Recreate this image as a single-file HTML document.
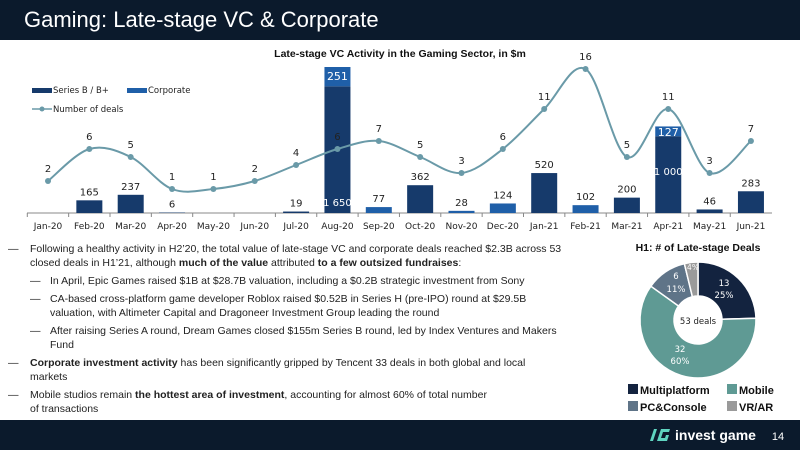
<!DOCTYPE html>
<html><head><meta charset="utf-8"><style>
body{margin:0;width:800px;height:450px;overflow:hidden;background:#fff;font-family:"Liberation Sans",sans-serif;position:relative}
.hdr{position:absolute;left:0;top:0;width:800px;height:40px;background:#0b1a2c;color:#fff;font-size:22px;line-height:40px;padding-left:24px;box-sizing:border-box}
.ftr{position:absolute;left:0;top:420px;width:800px;height:30px;background:#0b1a2c}
.txt{position:absolute;left:8px;top:242px;width:561px;font-size:10.5px;line-height:14px;color:#222}
.txt p{margin:0 0 4px 0;position:relative;padding-left:22px}
.txt p.s{padding-left:42px}
.txt p:before{content:"—";position:absolute;left:0}
.txt p.s:before{left:22px}
</style></head><body>
<div class="ftr"></div>
<div class="hdr">Gaming: Late-stage VC &amp; Corporate</div>
<svg width="800" height="450" style="position:absolute;left:0;top:0" id="s">
<text x="400" y="57" font-size="10.5" font-weight="bold" text-anchor="middle" fill="#111">Late-stage VC Activity in the Gaming Sector, in $m</text>
<rect x="32" y="88" width="20" height="5" fill="#163a6b"/><text x="53" y="93" font-size="8.5" fill="#222" font-family="DejaVu Sans">Series B / B+</text>
<rect x="127" y="88" width="20" height="5" fill="#1f5fa8"/><text x="148" y="93" font-size="8.5" fill="#222" font-family="DejaVu Sans">Corporate</text>
<line x1="32" y1="109" x2="52" y2="109" stroke="#6a9aa8" stroke-width="1.5"/><circle cx="42" cy="109" r="2.5" fill="#6a9aa8"/><text x="53" y="112" font-size="8.5" fill="#222" font-family="DejaVu Sans">Number of deals</text>
<line x1="27" y1="213" x2="772" y2="213" stroke="#888" stroke-width="1"/>
<g id="g"></g>
<g id="pie"></g>
<text x="698" y="251" font-size="10.5" font-weight="bold" text-anchor="middle" fill="#111">H1: # of Late-stage Deals</text>
<text x="698" y="324" font-size="8.5" text-anchor="middle" fill="#222" font-family="DejaVu Sans">53 deals</text>
<text x="724" y="286" font-size="8.5" text-anchor="middle" fill="#fff" font-family="DejaVu Sans">13</text>
<text x="724" y="298" font-size="8.5" text-anchor="middle" fill="#fff" font-family="DejaVu Sans">25%</text>
<text x="680" y="352" font-size="8.5" text-anchor="middle" fill="#fff" font-family="DejaVu Sans">32</text>
<text x="680" y="364" font-size="8.5" text-anchor="middle" fill="#fff" font-family="DejaVu Sans">60%</text>
<text x="676" y="279" font-size="8.5" text-anchor="middle" fill="#fff" font-family="DejaVu Sans">6</text>
<text x="676" y="292" font-size="8.5" text-anchor="middle" fill="#fff" font-family="DejaVu Sans">11%</text>
<text x="693" y="270" font-size="7.5" text-anchor="middle" fill="#fff" font-family="DejaVu Sans">4%</text>
<rect x="628" y="384" width="10" height="10" fill="#13233f"/><text x="640" y="394" font-size="11" font-weight="bold" fill="#111">Multiplatform</text>
<rect x="727" y="384" width="10" height="10" fill="#5f9a94"/><text x="739" y="394" font-size="11" font-weight="bold" fill="#111">Mobile</text>
<rect x="628" y="401" width="10" height="10" fill="#5f7488"/><text x="640" y="411" font-size="11" font-weight="bold" fill="#111">PC&amp;Console</text>
<rect x="727" y="401" width="10" height="10" fill="#9a9a9a"/><text x="739" y="411" font-size="11" font-weight="bold" fill="#111">VR/AR</text>
<g transform="translate(648,427)"><path d="M2 14 L6 2 L9 2 L5 14Z M9 14 L13 2 L22 2 L21 5 L15 5 L13 11 L17 11 L18 8 L21 8 L19 14Z" fill="#5fd4c0"/></g>
<text x="675" y="440" font-size="14" font-weight="bold" fill="#fff">invest game</text>
<text x="778" y="440" font-size="11" fill="#fff" text-anchor="middle">14</text>
</svg>
<div class="txt">
<p>Following a healthy activity in H2’20, the total value of late-stage VC and corporate deals reached $2.3B across 53 closed deals in H1’21, although <b>much of the value</b> attributed <b>to a few outsized fundraises</b>:</p>
<p class="s">In April, Epic Games raised $1B at $28.7B valuation, including a $0.2B strategic investment from Sony</p>
<p class="s">CA-based cross-platform game developer Roblox raised $0.52B in Series H (pre-IPO) round at $29.5B<br>valuation, with Altimeter Capital and Dragoneer Investment Group leading the round</p>
<p class="s">After raising Series A round, Dream Games closed $155m Series B round, led by Index Ventures and Makers<br>Fund</p>
<p><b>Corporate investment activity</b> has been significantly gripped by Tencent 33 deals in both global and local<br>markets</p>
<p>Mobile studios remain <b>the hottest area of investment</b>, accounting for almost 60% of total number<br>of transactions</p>
</div>
<script>
var ns="http://www.w3.org/2000/svg",g=document.getElementById("g");
function el(t,a,txt){var e=document.createElementNS(ns,t);for(var k in a)e.setAttribute(k,a[k]);if(txt!=null)e.textContent=txt;g.appendChild(e);return e;}
var m=["Jan-20","Feb-20","Mar-20","Apr-20","May-20","Jun-20","Jul-20","Aug-20","Sep-20","Oct-20","Nov-20","Dec-20","Jan-21","Feb-21","Mar-21","Apr-21","May-21","Jun-21"];
var d=[0,165,237,6,0,0,19,1650,0,362,0,0,520,0,200,1000,46,283];
var c=[0,0,0,0,0,0,0,251,77,0,28,124,0,102,0,127,0,0];
var n=[2,6,5,1,1,2,4,6,7,5,3,6,11,16,5,11,3,7];
var B=213,S=0.0768,F="DejaVu Sans";
var P=[];
for(var i=0;i<18;i++){var x=48+41.35*i;
el("text",{x:x,y:229,"font-size":9,"text-anchor":"middle",fill:"#222","font-family":F},m[i]);
el("line",{x1:x-20.7,y1:213,x2:x-20.7,y2:217,stroke:"#888"});
var hd=d[i]*S,hc=c[i]*S;
if(hd>0)el("rect",{x:x-13,y:B-hd,width:26,height:hd,fill:"#163a6b"});
if(hc>0)el("rect",{x:x-13,y:B-hd-hc,width:26,height:hc,fill:"#1f5fa8"});
var tot=d[i]+c[i];
if(i==7){el("text",{x:x,y:80,"font-size":11,"text-anchor":"middle",fill:"#fff","font-family":F},"251");el("text",{x:x,y:206,"font-size":10,"text-anchor":"middle",fill:"#fff","font-family":F},"1 650");}
else if(i==15){el("text",{x:x,y:136,"font-size":11,"text-anchor":"middle",fill:"#fff","font-family":F},"127");el("text",{x:x,y:175,"font-size":10,"text-anchor":"middle",fill:"#fff","font-family":F},"1 000");}
else if(tot>0)el("text",{x:x,y:B-tot*S-5,"font-size":10,"text-anchor":"middle",fill:"#222","font-family":F},String(tot));
P.push([x,197-8*n[i]]);}
var p="M"+P[0][0]+","+P[0][1];
for(var i=0;i<17;i++){var p0=P[Math.max(i-1,0)],p1=P[i],p2=P[i+1],p3=P[Math.min(i+2,17)];
p+=" C"+(p1[0]+(p2[0]-p0[0])/6)+","+(p1[1]+(p2[1]-p0[1])/6)+" "+(p2[0]-(p3[0]-p1[0])/6)+","+(p2[1]-(p3[1]-p1[1])/6)+" "+p2[0]+","+p2[1];}
el("path",{d:p,fill:"none",stroke:"#6a9aa8","stroke-width":2});
for(var i=0;i<18;i++){el("circle",{cx:P[i][0],cy:P[i][1],r:3,fill:"#6a9aa8"});
el("text",{x:P[i][0],y:P[i][1]-9,"font-size":10,"text-anchor":"middle",fill:"#222","font-family":F},String(n[i]));}
g=document.getElementById("pie");
var cx=698,cy=320,R=58,r=24,vals=[13,32,6,2],cols=["#13233f","#5f9a94","#5f7488","#9a9a9a"],a=-Math.PI/2;
for(var k=0;k<4;k++){var b=a+vals[k]/53*2*Math.PI,l=(b-a)>Math.PI?1:0;
var dd="M"+(cx+R*Math.cos(a))+","+(cy+R*Math.sin(a))+" A"+R+","+R+" 0 "+l+" 1 "+(cx+R*Math.cos(b))+","+(cy+R*Math.sin(b))+" L"+(cx+r*Math.cos(b))+","+(cy+r*Math.sin(b))+" A"+r+","+r+" 0 "+l+" 0 "+(cx+r*Math.cos(a))+","+(cy+r*Math.sin(a))+"Z";
el("path",{d:dd,fill:cols[k],stroke:"#fff","stroke-width":1.5});a=b;}
</script>
</body></html>
